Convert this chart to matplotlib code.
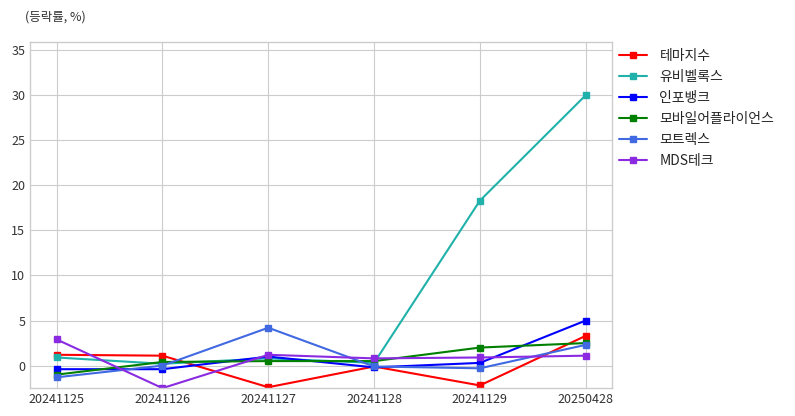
import matplotlib.pyplot as plt

plt.style.use('seaborn-v0_8-whitegrid')
plt.rcParams['font.family'] = ['Noto Sans CJK KR', 'DejaVu Sans']

dates = ['20241125', '20241126', '20241127', '20241128', '20241129', '20250428']

theme = [1.2, 1.1, -2.4, -0.1, -2.2, 3.3]
ubivelox = [0.9, 0.2, 0.8, 0.3, 18.3, 30.0]
infobank = [-0.4, -0.4, 1.0, -0.2, 0.3, 5.0]
mobile_appliance = [-1.0, 0.4, 0.5, 0.5, 2.0, 2.5]
motrex = [-1.3, 0.0, 4.2, -0.1, -0.3, 2.3]
mds_tech = [2.9, -2.5, 1.2, 0.8, 0.9, 1.1]

series = [
    ('테마지수', theme, 'red'),
    ('유비벨록스', ubivelox, 'lightseagreen'),
    ('인포뱅크', infobank, 'blue'),
    ('모바일어플라이언스', mobile_appliance, 'green'),
    ('모트렉스', motrex, 'royalblue'),
    ('MDS테크', mds_tech, 'blueviolet'),
]

fig = plt.figure(figsize=(7.95, 4.16), dpi=100)
ax = fig.add_axes([0.038, 0.067, 0.732, 0.832])

for name, vals, color in series:
    ax.plot(dates, vals, marker='s', markersize=4, linewidth=1.5, color=color, label=name)

ax.set_ylim(-2.5, 35.9)
ax.set_yticks(range(0, 36, 5))
ax.tick_params(labelsize=9, colors='#333333')
for s in ax.spines.values():
    s.set_visible(True)
    s.set_color('#cccccc')
ax.grid(True, color='#cccccc', linewidth=0.8)

ax.legend(loc='upper left', bbox_to_anchor=(1.0, 1.0), fontsize=10, frameon=False,
          handlelength=2.0, borderaxespad=0.1, labelspacing=0.5, handletextpad=0.9)

fig.text(0.031, 0.96, '(등락률, %)', fontsize=9, color='#333333', va='center')

fig.savefig('out.png', dpi=100)
